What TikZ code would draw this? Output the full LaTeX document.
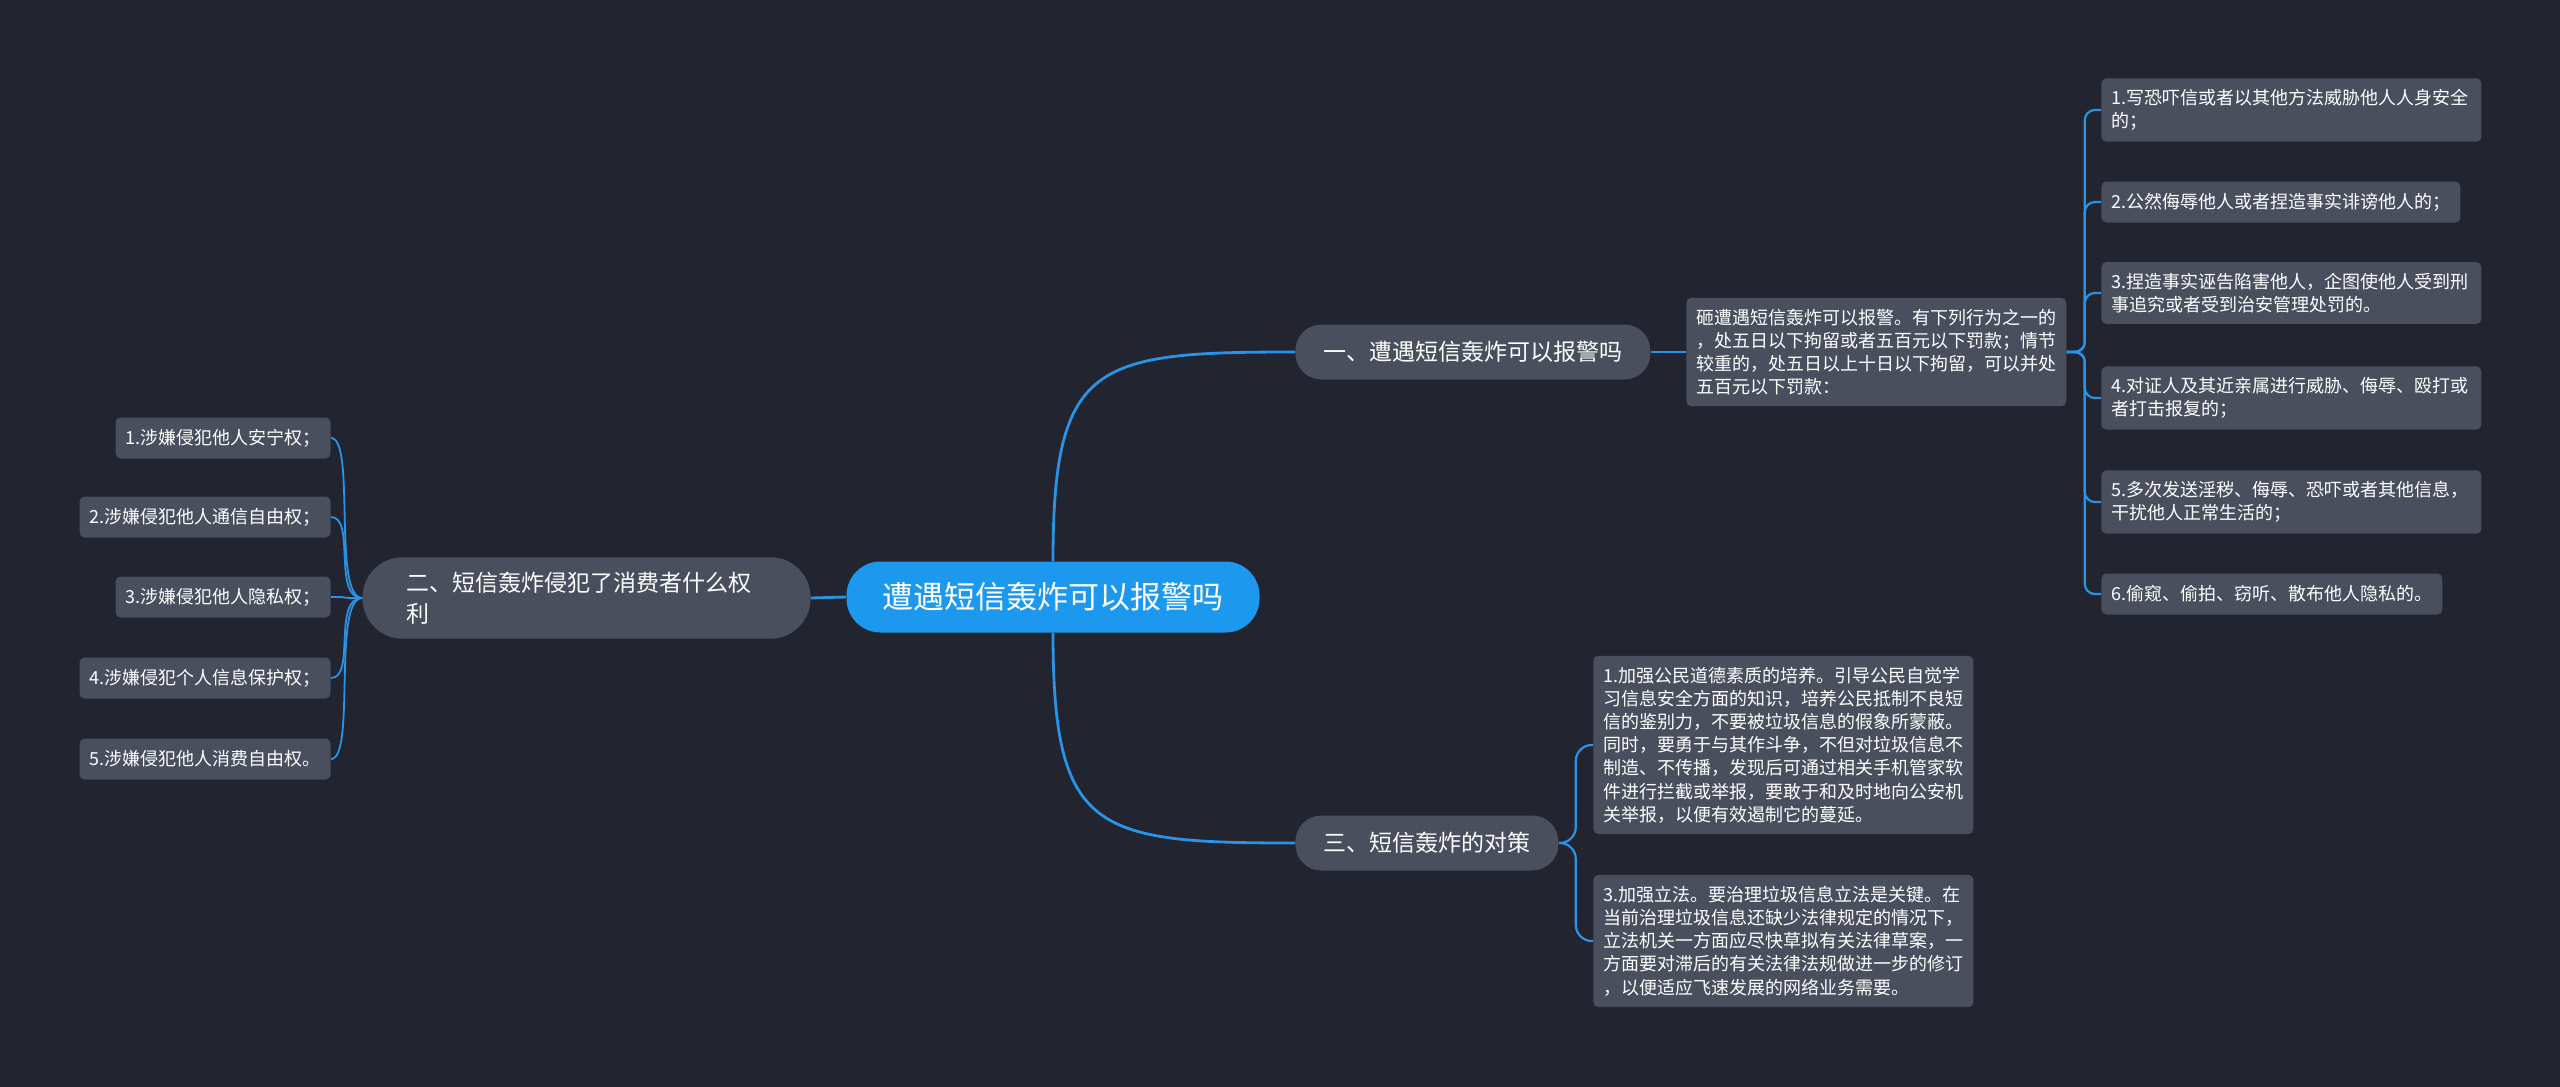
\documentclass[tikz,border=0pt]{standalone}
\usepackage{fontspec}
\newfontfamily\cjk{Noto Sans CJK SC}
\definecolor{bg}{HTML}{22252F}
\definecolor{boxgray}{HTML}{4A4F5D}
\definecolor{rootblue}{HTML}{1C99EE}
\definecolor{linkblue}{HTML}{2A93E6}
\begin{document}
\begin{tikzpicture}[x=0.5pt,y=-0.5pt,
  root/.style={fill=rootblue,text=white,rounded corners=17pt,inner xsep=18pt,minimum height=35.5pt,font=\cjk\fontsize{15.5}{18}\selectfont},
  branch/.style={fill=boxgray,text=white,rounded corners=13pt,inner xsep=14pt,minimum height=27.5pt,font=\cjk\fontsize{11.5}{15.5}\selectfont},
  leaf/.style={fill=boxgray,text=white,rounded corners=2.5pt,align=left,inner xsep=5pt,inner ysep=5.5pt,minimum height=20.5pt,font=\cjk\fontsize{9}{11.6}\selectfont},
  wide/.style={text width=180pt},
  link/.style={draw=linkblue,line width=1.4pt},
  sublink/.style={draw=linkblue,line width=1.1pt},
  thinlink/.style={draw=linkblue,line width=0.9pt}]
  \fill[bg] (0,0) rectangle (2560,1087);
  \useasboundingbox (0,0) rectangle (2560,1087);

  \node[root] (root) at (1053,597) {遭遇短信轰炸可以报警吗};
  \node[branch,anchor=west] (b1) at (1295,352) {一、遭遇短信轰炸可以报警吗};
  \node[branch,anchor=west] (b3) at (1295,843) {三、短信轰炸的对策};
  \node[branch,anchor=east,align=left,text width=180pt,inner xsep=22pt,inner ysep=7.25pt,rounded corners=20pt] (b2) at (811,598)
    {二、短信轰炸侵犯了消费者什么权\\利};

  \node[leaf,wide,anchor=west] (para) at (1686,352)
    {砸遭遇短信轰炸可以报警。有下列行为之一的\\，处五日以下拘留或者五百元以下罚款；情节\\较重的，处五日以上十日以下拘留，可以并处\\五百元以下罚款：};

  \foreach \y/\w/\t [count=\i] in {
      110/wide/{1.写恐吓信或者以其他方法威胁他人人身安全\\的；},
      202/{}/{2.公然侮辱他人或者捏造事实诽谤他人的；},
      293/wide/{3.捏造事实诬告陷害他人，企图使他人受到刑\\事追究或者受到治安管理处罚的。},
      398/wide/{4.对证人及其近亲属进行威胁、侮辱、殴打或\\者打击报复的；},
      502/wide/{5.多次发送淫秽、侮辱、恐吓或者其他信息，\\干扰他人正常生活的；},
      594/{}/{6.偷窥、偷拍、窃听、散布他人隐私的。}}
    \node[leaf,\w,anchor=west] (r\i) at (2101,\y) {\t};

  \node[leaf,wide,anchor=west] (s1) at (1593,745)
    {1.加强公民道德素质的培养。引导公民自觉学\\习信息安全方面的知识，培养公民抵制不良短\\信的鉴别力，不要被垃圾信息的假象所蒙蔽。\\同时，要勇于与其作斗争，不但对垃圾信息不\\制造、不传播，发现后可通过相关手机管家软\\件进行拦截或举报，要敢于和及时地向公安机\\关举报，以便有效遏制它的蔓延。};
  \node[leaf,wide,anchor=west] (s2) at (1593,941)
    {3.加强立法。要治理垃圾信息立法是关键。在\\当前治理垃圾信息还缺少法律规定的情况下，\\立法机关一方面应尽快草拟有关法律草案，一\\方面要对滞后的有关法律法规做进一步的修订\\，以便适应飞速发展的网络业务需要。};

  \foreach \y/\t [count=\i] in {438/{1.涉嫌侵犯他人安宁权；}, 517/{2.涉嫌侵犯他人通信自由权；},
      597/{3.涉嫌侵犯他人隐私权；}, 678/{4.涉嫌侵犯个人信息保护权；}, 759/{5.涉嫌侵犯他人消费自由权。}}
    \node[leaf,anchor=east] (l\i) at (331,\y) {\t};

  \draw[link] (root.north) .. controls +(0,-200) and +(-200,0) .. (b1.west);
  \draw[link] (root.south) .. controls +(0,200) and +(-200,0) .. (b3.west);
  \draw[link] (root.west) -- (b2.east);
  \draw[link] (b1.east) -- (para.west);
  \foreach \i in {1,...,6}
    \draw[sublink,rounded corners=5pt] (para.east) -- ++(18,0) |- (r\i.west);
  \foreach \i in {1,2}
    \draw[sublink,rounded corners=8pt] (b3.east) -- ++(17,0) |- (s\i.west);
  \foreach \i in {1,...,5}
    \draw[thinlink] (b2.west) .. controls +(-30,0) and +(25,0) .. (l\i.east);
\end{tikzpicture}
\end{document}
